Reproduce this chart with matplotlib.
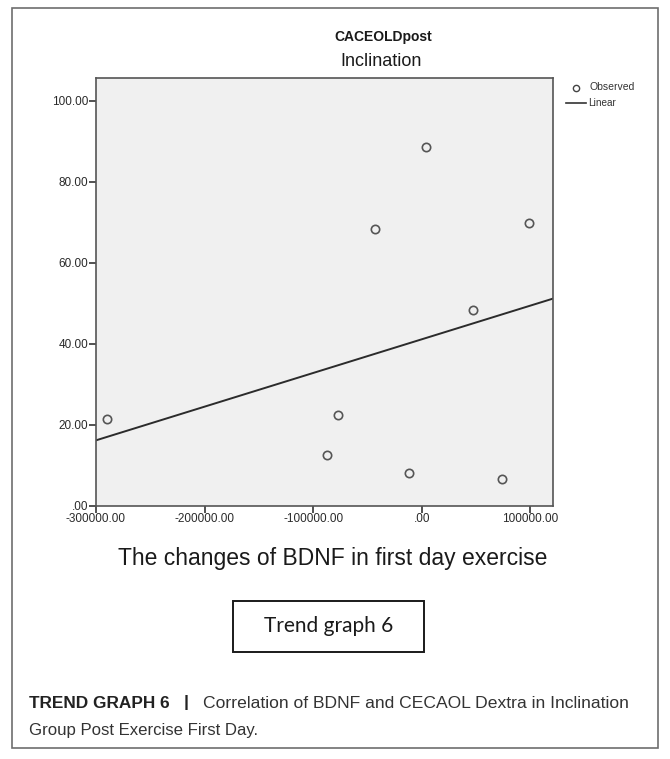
import numpy as np
import matplotlib
matplotlib.use("Agg")
import matplotlib.pyplot as plt
from matplotlib.patches import Rectangle
from matplotlib.lines import Line2D

plt.rcParams['font.family'] = ['Liberation Sans', 'DejaVu Sans']

# Data
bdnf_change = [-290000, -87000, -77000, -43000, -12000, 4000, 47000, 74000, 99000]
caceold_post = [21.3, 12.4, 22.4, 68.3, 8.1, 88.6, 48.3, 6.7, 69.9]
x_ticks = [-300000, -200000, -100000, 0, 100000]
x_tick_labels = ["-300000.00", "-200000.00", "-100000.00", ".00", "100000.00"]
y_ticks = [0, 20, 40, 60, 80, 100]
y_tick_labels = [".00", "20.00", "40.00", "60.00", "80.00", "100.00"]

W, H = 670, 759
fig = plt.figure(figsize=(W / 100, H / 100), dpi=100)

def fx(px):
    return px / W

def fy(py):
    return 1 - py / H

# outer frame
fig.patches.append(Rectangle((fx(12), fy(748)), fx(658) - fx(12), fy(8) - fy(748),
                             transform=fig.transFigure, fill=False,
                             edgecolor='#6e6e6e', linewidth=1.2))

ax = fig.add_axes([fx(96), fy(505.7), fx(553) - fx(96), fy(78) - fy(505.7)])
ax.set_facecolor('#f0f0f0')
ax.set_xlim(-300000, 121000)
ax.set_ylim(0, 105.6)

x = np.array(bdnf_change, dtype=float)
y = np.array(caceold_post, dtype=float)
slope, intercept = np.polyfit(x, y, 1)
xl = np.array(ax.get_xlim())
ax.plot(xl, slope * xl + intercept, color='#2b2b2b', linewidth=1.4, zorder=2)
ax.plot(x, y, linestyle='none', marker='o', markersize=6, markerfacecolor='none',
        markeredgecolor='#555555', markeredgewidth=1.2, zorder=3)

ax.set_xticks(x_ticks)
ax.set_xticklabels(x_tick_labels)
ax.set_yticks(y_ticks)
ax.set_yticklabels(y_tick_labels)
ax.tick_params(axis='both', direction='out', length=5, width=1.2, color='#333333',
               labelsize=8.5, labelcolor='#2a2a2a', pad=0.5)
for s in ax.spines.values():
    s.set_color('#555555')
    s.set_linewidth(1.2)

# titles
fig.text(fx(383), fy(37), "CACEOLDpost", ha='center', va='center',
         fontsize=10, fontweight='bold', color='#1a1a1a')
fig.text(fx(381), fy(61), "Inclination", ha='center', va='center',
         fontsize=13, color='#1a1a1a')

# legend (manual, matching SPSS style)
fig.lines.append(Line2D([fx(576)], [fy(87.5)], transform=fig.transFigure, marker='o',
                        markersize=4.5, markerfacecolor='none', markeredgecolor='#444444',
                        markeredgewidth=1.0, linestyle='none'))
fig.text(fx(590), fy(87.5), "Observed", ha='left', va='center', fontsize=7.5, color='#333333')
fig.lines.append(Line2D([fx(566), fx(586)], [fy(102.5), fy(102.5)], transform=fig.transFigure,
                        color='#333333', linewidth=1.2))
fig.text(fx(588), fy(102.5), "Linear", ha='left', va='center', fontsize=7.2, color='#333333')

# x axis label
fig.text(fx(333), fy(558), "The changes of BDNF in first day exercise", ha='center',
         va='center', fontsize=16.5, color='#1a1a1a')

# Trend graph box
fig.patches.append(Rectangle((fx(233), fy(652)), fx(424) - fx(233), fy(601) - fy(652),
                             transform=fig.transFigure, fill=False,
                             edgecolor='#1a1a1a', linewidth=1.4))
fig.text(fx(328.5), fy(626), "Trend graph 6", ha='center', va='center',
         fontsize=15, color='#1a1a1a', family=['Lato', 'DejaVu Sans'])

# caption
fig.text(fx(29), fy(703), "TREND GRAPH 6", ha='left', va='center', fontsize=12.4,
         fontweight='bold', color='#222222')
fig.text(fx(186), fy(703), "|", ha='center', va='center', fontsize=12.4,
         fontweight='bold', color='#222222')
fig.text(fx(203), fy(703), "Correlation of BDNF and CECAOL Dextra in Inclination",
         ha='left', va='center', fontsize=12.6, color='#333333')
fig.text(fx(29), fy(731), "Group Post Exercise First Day.", ha='left', va='center',
         fontsize=12.1, color='#333333')

fig.savefig("out.png", dpi=100)
